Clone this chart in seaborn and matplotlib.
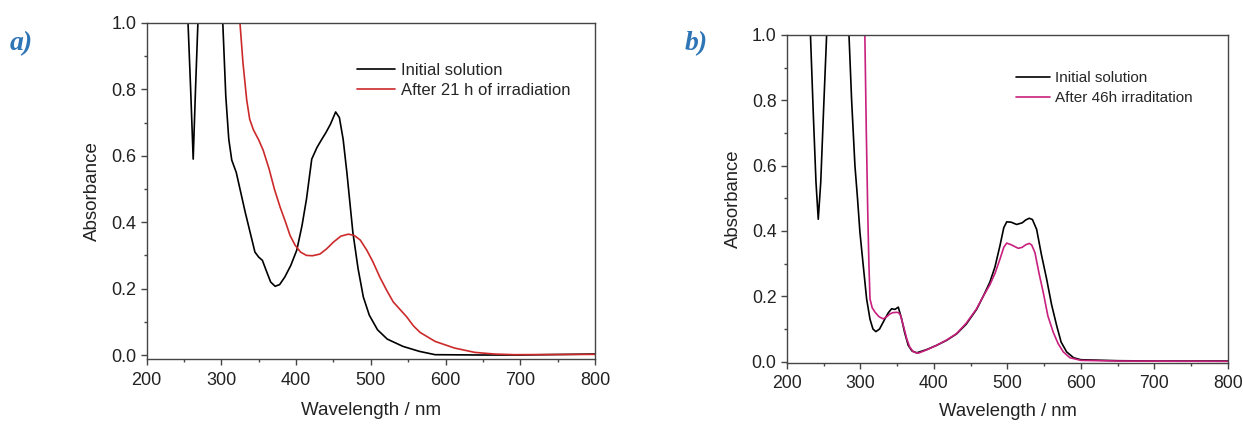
import numpy as np
import pandas as pd
import matplotlib
matplotlib.use("Agg")
import matplotlib.pyplot as plt
from matplotlib.ticker import MultipleLocator
import seaborn as sns

# panel a) - initial solution vs after 21 h irradiation
wl_a_init = [250, 255.5, 259, 262.4, 265.5, 268.7, 272, 300, 302, 306, 310, 314, 320, 326,
             332, 338.5, 345, 350, 355, 360, 366, 372, 378, 385, 393, 401, 408, 414, 421,
             428, 434, 440, 446, 453, 458, 463, 468, 476, 483, 490, 498, 509, 522, 543,
             565, 586, 650, 700, 800]
abs_a_init = [1.6, 1.0, 0.8, 0.59, 0.8, 1.0, 1.6, 1.6, 1.0, 0.78, 0.65, 0.587, 0.55, 0.49,
              0.43, 0.37, 0.31, 0.295, 0.285, 0.255, 0.22, 0.207, 0.212, 0.235, 0.27, 0.316,
              0.39, 0.47, 0.59, 0.625, 0.648, 0.67, 0.695, 0.732, 0.715, 0.65, 0.55, 0.37,
              0.26, 0.175, 0.12, 0.076, 0.048, 0.026, 0.011, 0.001, 0.0, 0.0, 0.003]

wl_a_irr = [320, 325, 329, 334, 338, 343, 350, 356, 364, 371, 378.6, 386, 392, 398.7, 406,
            414, 422, 432, 441, 450, 460, 470, 478, 486, 494.6, 503, 512, 521, 530, 538,
            548, 557, 566, 586, 612, 639, 665, 692, 800]
abs_a_irr = [1.3, 1.0, 0.88, 0.768, 0.71, 0.678, 0.648, 0.617, 0.56, 0.5, 0.446, 0.4, 0.36,
             0.331, 0.31, 0.30, 0.299, 0.304, 0.32, 0.34, 0.358, 0.364, 0.36, 0.346, 0.316,
             0.28, 0.235, 0.196, 0.16, 0.14, 0.115, 0.088, 0.068, 0.041, 0.021, 0.008,
             0.003, 0.001, 0.002]

# panel b) - initial solution vs after 46 h irradiation
wl_b_init = [228, 232, 236, 239.5, 242.6, 246, 250, 254, 258, 280, 284.4, 288, 292.5, 296,
             299.3, 304, 308.4, 313, 317, 321, 326, 333.3, 338, 342.4, 347, 351.5, 356, 360,
             365, 370, 376.4, 390, 403.6, 417, 430.8, 444, 458, 467, 476, 483, 489.8, 495,
             499, 505, 512.5, 520, 525, 529.7, 534, 539.7, 546, 553.3, 560, 567, 573, 580.5,
             590, 600, 650, 700, 800]
abs_b_init = [1.5, 1.0, 0.75, 0.55, 0.436, 0.55, 0.78, 1.0, 1.5, 1.5, 1.0, 0.8, 0.6, 0.5,
              0.396, 0.29, 0.192, 0.13, 0.1, 0.092, 0.1, 0.131, 0.15, 0.162, 0.16, 0.167,
              0.131, 0.09, 0.05, 0.033, 0.027, 0.037, 0.05, 0.065, 0.085, 0.115, 0.16, 0.2,
              0.243, 0.29, 0.355, 0.41, 0.428, 0.427, 0.42, 0.425, 0.434, 0.439, 0.435,
              0.405, 0.33, 0.253, 0.175, 0.11, 0.06, 0.03, 0.012, 0.006, 0.003, 0.002, 0.002]

wl_b_irr = [304, 306, 308, 310, 311.5, 313, 316, 319.7, 325, 331, 336, 340, 344, 349, 352,
            354.7, 359, 363, 367, 372, 378.7, 390, 403.6, 417, 430.8, 444, 458, 467, 476,
            483, 489.8, 495, 499, 505, 514.7, 520, 525, 529.7, 533, 537.4, 543, 548.7, 555,
            562.3, 569, 576, 585, 600, 650, 800]
abs_b_irr = [1.5, 1.0, 0.7, 0.45, 0.3, 0.192, 0.165, 0.152, 0.138, 0.131, 0.138, 0.146,
             0.15, 0.151, 0.15, 0.141, 0.105, 0.07, 0.045, 0.03, 0.026, 0.036, 0.05, 0.066,
             0.086, 0.118, 0.162, 0.2, 0.235, 0.27, 0.314, 0.35, 0.363, 0.358, 0.347, 0.35,
             0.358, 0.362, 0.357, 0.334, 0.27, 0.212, 0.14, 0.09, 0.055, 0.03, 0.012, 0.004,
             0.002, 0.001]

sns.set_style("ticks")
plt.rcParams['font.family'] = ['Liberation Sans', 'DejaVu Sans']

fig = plt.figure(figsize=(12.43, 4.24), dpi=100)
ax_a = fig.add_axes([0.1179, 0.1533, 0.3608, 0.7925])
ax_b = fig.add_axes([0.6331, 0.1439, 0.3548, 0.7736])


def style_axis(ax, fs, lfs, ybottom, xpad, xlpad):
    ax.set_xlim(200, 800)
    ax.set_ylim(ybottom, 1.0)
    ax.xaxis.set_major_locator(MultipleLocator(100))
    ax.xaxis.set_minor_locator(MultipleLocator(50))
    ax.yaxis.set_major_locator(MultipleLocator(0.2))
    ax.yaxis.set_minor_locator(MultipleLocator(0.1))
    ax.yaxis.set_major_formatter(matplotlib.ticker.FormatStrFormatter('%.1f'))
    for s in ax.spines.values():
        s.set_visible(True)
        s.set_color('#444444')
        s.set_linewidth(1.0)
    ax.tick_params(which='major', direction='out', length=4, width=1,
                   color='#444444', labelsize=fs, labelcolor='#222222',
                   top=False, right=False)
    ax.tick_params(axis='x', which='major', pad=xpad)
    ax.tick_params(which='minor', direction='out', length=2.5, width=1,
                   color='#444444', top=False, right=False)
    ax.set_xlabel('Wavelength / nm', fontsize=lfs, color='#222222', labelpad=xlpad)
    ax.set_ylabel('Absorbance', fontsize=lfs, color='#222222', labelpad=7)


# panel a
sns.lineplot(x=wl_a_init, y=abs_a_init, ax=ax_a, color='black', lw=1.2,
             label='Initial solution', estimator=None, sort=False)
sns.lineplot(x=wl_a_irr, y=abs_a_irr, ax=ax_a, color='#cc2a2a', lw=1.2,
             label='After 21 h of irradiation', estimator=None, sort=False)
style_axis(ax_a, 13, 13.5, -0.012, 5.5, 9)
ax_a.legend(loc='upper left', bbox_to_anchor=(0.469, 0.88), frameon=False,
            fontsize=12, handlelength=2.3, handletextpad=0.35,
            labelspacing=0.3, borderpad=0, borderaxespad=0)

# panel b
sns.lineplot(x=wl_b_init, y=abs_b_init, ax=ax_b, color='black', lw=1.2,
             label='Initial solution', estimator=None, sort=False)
sns.lineplot(x=wl_b_irr, y=abs_b_irr, ax=ax_b, color='#c8207e', lw=1.2,
             label='After 46h irraditation', estimator=None, sort=False)
style_axis(ax_b, 12.7, 13.3, -0.004, 4.5, 8)
ax_b.legend(loc='upper left', bbox_to_anchor=(0.52, 0.89), frameon=False,
            fontsize=11, handlelength=2.2, handletextpad=0.33,
            labelspacing=0.4, borderpad=0, borderaxespad=0)

# panel letters
fig.text(0.0075, 0.897, 'a)', fontsize=20, fontweight='bold', fontstyle='italic',
         family='Liberation Serif', color='#2e75b6', va='center')
fig.text(0.5505, 0.897, 'b)', fontsize=20, fontweight='bold', fontstyle='italic',
         family='Liberation Serif', color='#2e75b6', va='center')

fig.savefig('out.png', dpi=100)
